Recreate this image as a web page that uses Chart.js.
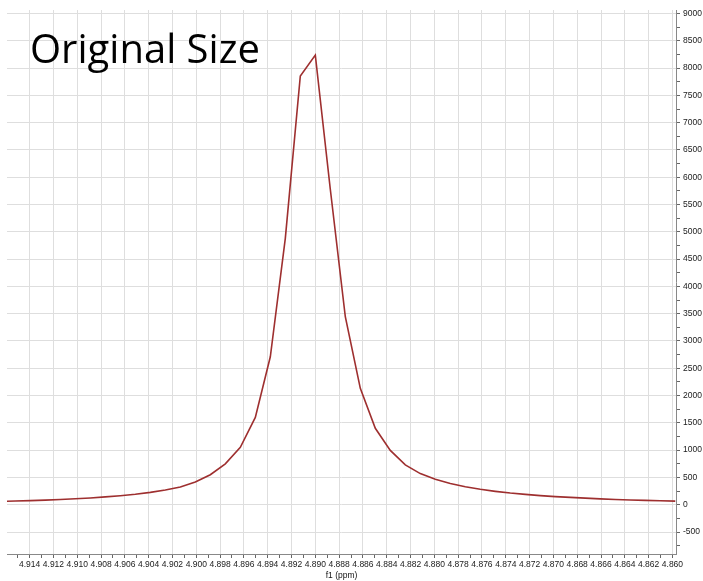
<!DOCTYPE html>
<html>
<head>
<meta charset="utf-8">
<title>Original Size</title>
<script src="https://cdn.jsdelivr.net/npm/chart.js@4.4.1/dist/chart.umd.min.js"></script>
<style>
    html, body { margin: 0; padding: 0; background: #ffffff; }
    #wrap { width: 703px; height: 581px; }
</style>
</head>
<body>
<div id="wrap"><canvas id="chart" width="703" height="581"></canvas></div>
<script>
const shifts = [
    4.91646, 4.91520, 4.91394, 4.91268, 4.91142, 4.91016, 4.90890, 4.90764,
    4.90638, 4.90512, 4.90386, 4.90260, 4.90134, 4.90008, 4.89882, 4.89756,
    4.89630, 4.89504, 4.89378, 4.89252, 4.89126, 4.89000, 4.88874, 4.88748,
    4.88622, 4.88496, 4.88370, 4.88244, 4.88118, 4.87992, 4.87866, 4.87740,
    4.87614, 4.87488, 4.87362, 4.87236, 4.87110, 4.86984, 4.86858, 4.86732,
    4.86606, 4.86480, 4.86354, 4.86228, 4.86102, 4.85976
]

// intensity at each of those shifts
const intensities = [
    62, 68, 75, 84, 95, 108, 124, 143,
    165, 192, 226, 268, 325, 415, 550, 750,
    1050, 1600, 2711, 4880, 7854, 8238, 5780, 3444,
    2132, 1400, 995, 730, 570, 465, 390, 330,
    282, 245, 214, 190, 166, 148, 134, 120,
    107, 96, 87, 79, 72, 66
]

const titleText = "Original Size"
const xTitle = "f1 (ppm)"
const xRange = [4.8597, 4.9159]
const yRange = [-903, 9064]
const xLabelStep = 0.002
const yLabelStep = 500
// y tick marks every 250, labelled every 500
const yTicks = Array.from({ length: 40 }, (_, i) => -750 + i * 250)

const points = shifts.map((s, i) => ({ x: s, y: intensities[i] }))

const isMajor = (value, step) => Math.abs(value / step - Math.round(value / step)) < 1e-6

const cornerTitle = {
    id: "cornerTitle",
    afterDatasetsDraw(chart) {
        const ctx = chart.ctx
        ctx.save()
        ctx.font = "40px 'Open Sans'"
        ctx.fillStyle = "#000000"
        ctx.textBaseline = "alphabetic"
        ctx.fillText(titleText, chart.chartArea.left + 23, 63)
        ctx.restore()
    }
}

const tickFont = { family: "'Liberation Sans', Arial, sans-serif", size: 8.5 }

new Chart(document.getElementById("chart"), {
    type: "line",
    data: {
        datasets: [
            {
                data: points,
                borderColor: "#9e2f2f",
                borderWidth: 1.6,
                pointRadius: 0,
                tension: 0,
                fill: false
            }
        ]
    },
    options: {
        responsive: false,
        animation: false,
        layout: { padding: { left: 7, top: 10, right: 0, bottom: 0 } },
        plugins: {
            legend: { display: false },
            tooltip: { enabled: false }
        },
        scales: {
            x: {
                type: "linear",
                reverse: true,
                min: xRange[0],
                max: xRange[1],
                afterFit: (scale) => { scale.height = 27 },
                ticks: {
                    stepSize: 0.001,
                    includeBounds: false,
                    autoSkip: false,
                    maxRotation: 0,
                    minRotation: 0,
                    padding: 2,
                    color: "#1a1a1a",
                    font: tickFont,
                    callback: (value) => isMajor(value, xLabelStep) ? value.toFixed(3) : ""
                },
                grid: {
                    color: (ctx) => ctx.tick && isMajor(ctx.tick.value, xLabelStep) ? "#dedede" : "rgba(0,0,0,0)",
                    tickColor: "#666666",
                    tickLength: 4,
                    lineWidth: 1
                },
                border: { color: "#888888", width: 1 },
                title: {
                    display: true,
                    text: xTitle,
                    color: "#111111",
                    font: tickFont,
                    padding: { top: 0, bottom: 0 }
                }
            },
            y: {
                type: "linear",
                position: "right",
                min: yRange[0],
                max: yRange[1],
                afterFit: (scale) => { scale.width = 27 },
                afterBuildTicks: (scale) => {
                    scale.ticks = yTicks
                        .filter((v) => v >= scale.min && v <= scale.max)
                        .map((v) => ({ value: v }))
                },
                ticks: {
                    autoSkip: false,
                    padding: 3,
                    color: "#1a1a1a",
                    font: tickFont,
                    callback: (value) => isMajor(value, yLabelStep) ? String(value) : ""
                },
                grid: {
                    color: (ctx) => ctx.tick && isMajor(ctx.tick.value, yLabelStep) ? "#dedede" : "rgba(0,0,0,0)",
                    tickColor: "#666666",
                    tickLength: 4,
                    lineWidth: 1
                },
                border: { color: "#888888", width: 1 }
            }
        }
    },
    plugins: [cornerTitle]
})
</script>
</body>
</html>
